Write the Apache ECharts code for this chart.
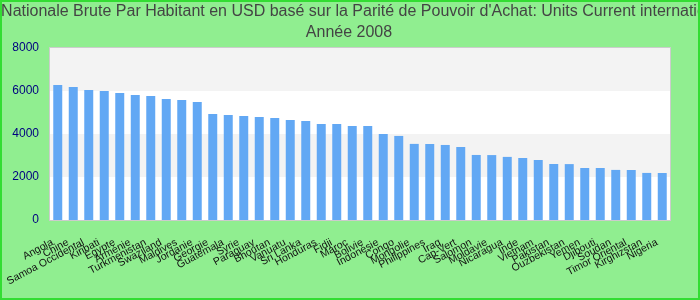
<!DOCTYPE html>
<html><head><meta charset="utf-8">
<script src="https://cdn.jsdelivr.net/npm/echarts@6/dist/echarts.min.js"></script>
<style>html,body{margin:0;padding:0;background:#90ee90}#c{width:700px;height:300px}</style>
</head><body><div id="c"></div>
<script>
const titleLine1 = "Revenu Nationale Brute Par Habitant en USD basé sur la Parité de Pouvoir d'Achat: Units Current international $";
const titleLine2 = "Année 2008";
const categories = ["Angola","Chine","Samoa Occidental","Kiribati","Egypte","Arménie","Turkmenistan","Swaziland","Maldives","Jordanie","Georgie","Guatemala","Syrie","Paraguay","Bhoutan","Vanuatu","Sri Lanka","Honduras","Fidji","Maroc","Bolivie","Indonésie","Congo","Mongolie","Philippines","Iraq","Cap-Vert","Salomon","Moldavie","Nicaragua","Inde","Vietnam","Pakistan","Ouzbekistan","Yemen","Djibouti","Soudan","Timor Oriental","Kirghizstan","Nigeria"];
const values = [6280,6190,6050,6000,5910,5815,5770,5630,5580,5490,4930,4885,4840,4790,4745,4650,4605,4470,4465,4375,4370,4000,3910,3540,3535,3490,3395,3025,3020,2935,2885,2790,2605,2600,2420,2418,2330,2325,2190,2185];
const yTicks = {min:0, max:8000, interval:2000};

const titleFont = {fontFamily:'"Liberation Sans", Arial, sans-serif', fontSize:16, fontWeight:'normal', color:'#444'};
const chart = echarts.init(document.getElementById('c'), null, {renderer:'canvas'});
chart.setOption({
  backgroundColor:'#90ee90',
  animation:false,
  title:[
    {text: titleLine1, left:341, top:4, textAlign:'center', padding:0, textStyle:titleFont},
    {text: titleLine2, left:349, top:25, textAlign:'center', padding:0, textStyle:titleFont}
  ],
  grid:{left:50, right:30, top:48, bottom:80, show:true, borderColor:'#cccccc', borderWidth:2, backgroundColor:'transparent'},
  xAxis:{
    type:'category', data:categories,
    axisLine:{show:false}, axisTick:{show:false},
    axisLabel:{interval:0, rotate:28, fontSize:10.5, color:'#111', fontFamily:'"Liberation Sans", Arial, sans-serif', margin:19, padding:[0,6,0,0]}
  },
  yAxis:{
    type:'value', min:yTicks.min, max:yTicks.max, interval:yTicks.interval,
    axisLine:{show:false}, axisTick:{show:false},
    splitLine:{show:false},
    splitArea:{show:true, areaStyle:{color:['#ffffff','#f3f3f3']}},
    axisLabel:{fontSize:12, color:'#000080', fontFamily:'"Liberation Sans", Arial, sans-serif', margin:11, formatter:function(v){return String(v);}}
  },
  series:[{type:'bar', data:values, barWidth:'58%', itemStyle:{color:'#62a8f4'}}],
  graphic:[{type:'rect', shape:{x:1,y:1,width:698,height:298}, style:{fill:'none', stroke:'#33dd33', lineWidth:2}, z:100}]
});
</script></body></html>
